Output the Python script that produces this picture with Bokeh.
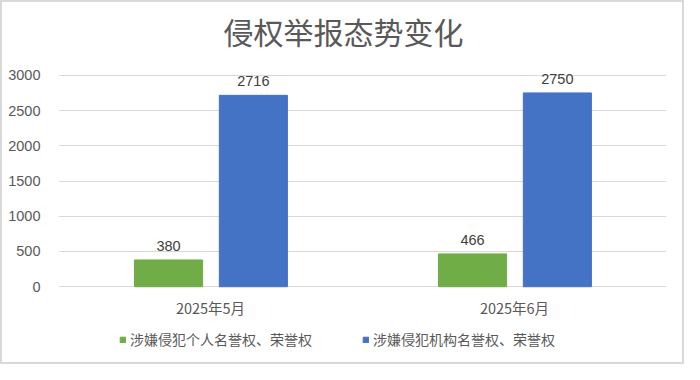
from bokeh.plotting import figure
from bokeh.models import FactorRange, ColumnDataSource, LabelSet, Label, Legend, LegendItem, Range1d
from bokeh.core.properties import value
from bokeh.transform import dodge
from bokeh.embed import file_html
from bokeh.resources import INLINE

title = "侵权举报态势变化"
months = ["2025年5月", "2025年6月"]
personal = [380, 466]
org = [2716, 2750]
series_names = ["涉嫌侵犯个人名誉权、荣誉权", "涉嫌侵犯机构名誉权、荣誉权"]
colors = ["#70AD47", "#4472C4"]
y_ticks = [0, 500, 1000, 1500, 2000, 2500, 3000]

NUM = "Liberation Sans"
CJK = "Noto Sans CJK SC"

src = ColumnDataSource(dict(month=months, personal=personal, org=org,
                            personal_txt=[str(v) for v in personal],
                            org_txt=[str(v) for v in org]))

# the frame covers the full height so title, category labels and legend sit inside it
p = figure(x_range=FactorRange(*months, range_padding=0), y_range=Range1d(-1132, 4033),
           width=684, height=364, output_backend="svg", toolbar_location=None,
           min_border_left=56, min_border_right=20, min_border_top=0, min_border_bottom=0)
p.outline_line_color = None
p.styles = {"border": "2px solid #d9d9d9", "box-sizing": "border-box"}

r1 = p.vbar(x=dodge("month", -0.138, range=p.x_range), top="personal", width=0.224,
            source=src, color=colors[0])
r2 = p.vbar(x=dodge("month", 0.141, range=p.x_range), top="org", width=0.224,
            source=src, color=colors[1])

for col, txt, off in [("personal", "personal_txt", -0.138), ("org", "org_txt", 0.141)]:
    p.add_layout(LabelSet(x=dodge("month", off, range=p.x_range), y=col, text=txt, source=src,
                          text_align="center", text_baseline="bottom", y_offset=9,
                          text_font=value(NUM), text_font_size=value("14.5px"),
                          text_color="#404040"))

cat_src = ColumnDataSource(dict(month=months, zero=[0] * len(months)))
p.add_layout(LabelSet(x="month", y="zero", text="month", source=cat_src, y_offset=-21,
                      text_align="center", text_baseline="middle",
                      text_font=value(CJK), text_font_size=value("14.5px"),
                      text_color="#595959"))

p.add_layout(Label(x=0.9375, y=3000, y_offset=44, text=title, text_align="center",
                   text_baseline="middle", text_font=CJK, text_font_size="30px",
                   text_color="#595959"))

p.xaxis.visible = False
p.xgrid.grid_line_color = None
p.ygrid.ticker = y_ticks
p.ygrid.grid_line_color = "#d9d9d9"
p.yaxis.ticker = y_ticks
p.yaxis.axis_line_color = None
p.yaxis.major_tick_line_color = None
p.yaxis.minor_tick_line_color = None
p.yaxis.major_label_standoff = 12
p.yaxis.major_label_text_font = NUM
p.yaxis.major_label_text_font_size = "14.5px"
p.yaxis.major_label_text_color = "#595959"

legend = Legend(items=[LegendItem(label=series_names[0], renderers=[r1]),
                       LegendItem(label=series_names[1], renderers=[r2])],
                orientation="horizontal", location=(61, 17),
                glyph_width=7, glyph_height=7, label_standoff=4, spacing=50,
                padding=0, margin=0, border_line_color=None, background_fill_alpha=0,
                label_text_font=CJK, label_text_font_size="14px", label_text_color="#595959")
p.add_layout(legend, "center")

open("out.html", "w").write(file_html(p, INLINE))
